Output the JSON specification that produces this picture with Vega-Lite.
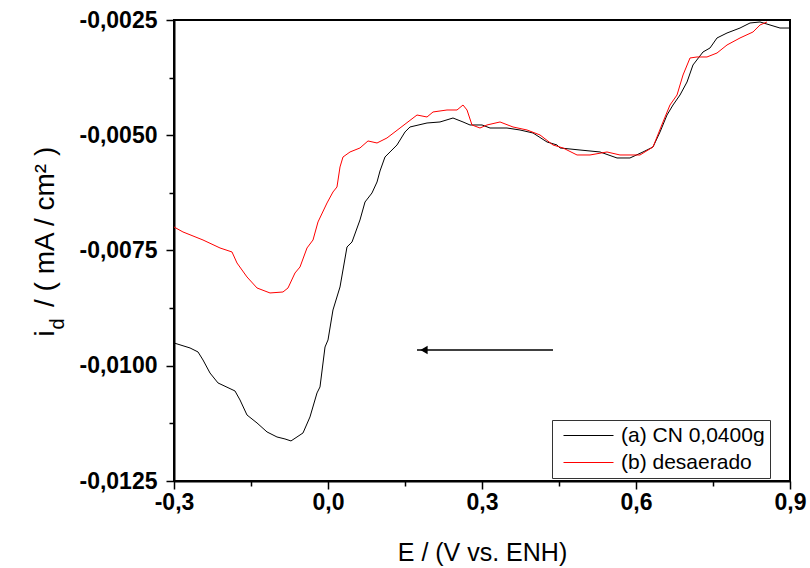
{
  "$schema": "https://vega.github.io/schema/vega-lite/v6.json",
  "width": 616,
  "height": 461,
  "autosize": {"type": "none"},
  "padding": {"left": 174, "top": 20, "right": 20, "bottom": 87},
  "background": "white",
  "config": {
    "font": "Liberation Sans",
    "view": {"stroke": "black", "strokeWidth": 2}
  },
  "datasets": {
    "curves": [
      {"E": -0.3, "i": -0.009506, "s": "(a) CN 0,0400g"},
      {"E": -0.2688, "i": -0.009614, "s": "(a) CN 0,0400g"},
      {"E": -0.2532, "i": -0.009701, "s": "(a) CN 0,0400g"},
      {"E": -0.2435, "i": -0.009875, "s": "(a) CN 0,0400g"},
      {"E": -0.2299, "i": -0.010157, "s": "(a) CN 0,0400g"},
      {"E": -0.2143, "i": -0.010373, "s": "(a) CN 0,0400g"},
      {"E": -0.1812, "i": -0.010547, "s": "(a) CN 0,0400g"},
      {"E": -0.1714, "i": -0.010742, "s": "(a) CN 0,0400g"},
      {"E": -0.1578, "i": -0.011068, "s": "(a) CN 0,0400g"},
      {"E": -0.1383, "i": -0.011241, "s": "(a) CN 0,0400g"},
      {"E": -0.1188, "i": -0.011436, "s": "(a) CN 0,0400g"},
      {"E": -0.0994, "i": -0.011545, "s": "(a) CN 0,0400g"},
      {"E": -0.0838, "i": -0.011588, "s": "(a) CN 0,0400g"},
      {"E": -0.0721, "i": -0.011631, "s": "(a) CN 0,0400g"},
      {"E": -0.0604, "i": -0.011545, "s": "(a) CN 0,0400g"},
      {"E": -0.0487, "i": -0.011458, "s": "(a) CN 0,0400g"},
      {"E": -0.0351, "i": -0.011111, "s": "(a) CN 0,0400g"},
      {"E": -0.0214, "i": -0.01059, "s": "(a) CN 0,0400g"},
      {"E": -0.0156, "i": -0.01046, "s": "(a) CN 0,0400g"},
      {"E": -0.0058, "i": -0.009593, "s": "(a) CN 0,0400g"},
      {"E": 0.0, "i": -0.009441, "s": "(a) CN 0,0400g"},
      {"E": 0.0097, "i": -0.00879, "s": "(a) CN 0,0400g"},
      {"E": 0.0234, "i": -0.008291, "s": "(a) CN 0,0400g"},
      {"E": 0.037, "i": -0.007424, "s": "(a) CN 0,0400g"},
      {"E": 0.0468, "i": -0.007315, "s": "(a) CN 0,0400g"},
      {"E": 0.0623, "i": -0.006838, "s": "(a) CN 0,0400g"},
      {"E": 0.0721, "i": -0.006448, "s": "(a) CN 0,0400g"},
      {"E": 0.0857, "i": -0.006252, "s": "(a) CN 0,0400g"},
      {"E": 0.0955, "i": -0.006014, "s": "(a) CN 0,0400g"},
      {"E": 0.1013, "i": -0.005775, "s": "(a) CN 0,0400g"},
      {"E": 0.111, "i": -0.005472, "s": "(a) CN 0,0400g"},
      {"E": 0.1208, "i": -0.005363, "s": "(a) CN 0,0400g"},
      {"E": 0.1344, "i": -0.005211, "s": "(a) CN 0,0400g"},
      {"E": 0.15, "i": -0.004929, "s": "(a) CN 0,0400g"},
      {"E": 0.1597, "i": -0.004821, "s": "(a) CN 0,0400g"},
      {"E": 0.1929, "i": -0.004734, "s": "(a) CN 0,0400g"},
      {"E": 0.2182, "i": -0.004712, "s": "(a) CN 0,0400g"},
      {"E": 0.2435, "i": -0.004626, "s": "(a) CN 0,0400g"},
      {"E": 0.263, "i": -0.004712, "s": "(a) CN 0,0400g"},
      {"E": 0.2766, "i": -0.004777, "s": "(a) CN 0,0400g"},
      {"E": 0.3, "i": -0.004777, "s": "(a) CN 0,0400g"},
      {"E": 0.3156, "i": -0.004843, "s": "(a) CN 0,0400g"},
      {"E": 0.3487, "i": -0.004843, "s": "(a) CN 0,0400g"},
      {"E": 0.374, "i": -0.004886, "s": "(a) CN 0,0400g"},
      {"E": 0.3994, "i": -0.004951, "s": "(a) CN 0,0400g"},
      {"E": 0.4266, "i": -0.005146, "s": "(a) CN 0,0400g"},
      {"E": 0.4461, "i": -0.005211, "s": "(a) CN 0,0400g"},
      {"E": 0.452, "i": -0.005276, "s": "(a) CN 0,0400g"},
      {"E": 0.4909, "i": -0.00532, "s": "(a) CN 0,0400g"},
      {"E": 0.5299, "i": -0.005363, "s": "(a) CN 0,0400g"},
      {"E": 0.563, "i": -0.005493, "s": "(a) CN 0,0400g"},
      {"E": 0.5883, "i": -0.005493, "s": "(a) CN 0,0400g"},
      {"E": 0.6136, "i": -0.005363, "s": "(a) CN 0,0400g"},
      {"E": 0.6331, "i": -0.005255, "s": "(a) CN 0,0400g"},
      {"E": 0.6468, "i": -0.004929, "s": "(a) CN 0,0400g"},
      {"E": 0.6604, "i": -0.004561, "s": "(a) CN 0,0400g"},
      {"E": 0.6721, "i": -0.004344, "s": "(a) CN 0,0400g"},
      {"E": 0.6857, "i": -0.004127, "s": "(a) CN 0,0400g"},
      {"E": 0.6994, "i": -0.003845, "s": "(a) CN 0,0400g"},
      {"E": 0.711, "i": -0.003476, "s": "(a) CN 0,0400g"},
      {"E": 0.7305, "i": -0.003194, "s": "(a) CN 0,0400g"},
      {"E": 0.7442, "i": -0.003107, "s": "(a) CN 0,0400g"},
      {"E": 0.7578, "i": -0.00289, "s": "(a) CN 0,0400g"},
      {"E": 0.7773, "i": -0.002782, "s": "(a) CN 0,0400g"},
      {"E": 0.8026, "i": -0.002674, "s": "(a) CN 0,0400g"},
      {"E": 0.8221, "i": -0.002565, "s": "(a) CN 0,0400g"},
      {"E": 0.8416, "i": -0.002543, "s": "(a) CN 0,0400g"},
      {"E": 0.861, "i": -0.002608, "s": "(a) CN 0,0400g"},
      {"E": 0.8805, "i": -0.002674, "s": "(a) CN 0,0400g"},
      {"E": 0.8981, "i": -0.002674, "s": "(a) CN 0,0400g"},
      {"E": -0.3, "i": -0.00699, "s": "(b) desaerado"},
      {"E": -0.2825, "i": -0.007098, "s": "(b) desaerado"},
      {"E": -0.2435, "i": -0.007272, "s": "(b) desaerado"},
      {"E": -0.2104, "i": -0.007445, "s": "(b) desaerado"},
      {"E": -0.187, "i": -0.007532, "s": "(b) desaerado"},
      {"E": -0.1773, "i": -0.007771, "s": "(b) desaerado"},
      {"E": -0.1578, "i": -0.008074, "s": "(b) desaerado"},
      {"E": -0.1383, "i": -0.008313, "s": "(b) desaerado"},
      {"E": -0.113, "i": -0.008421, "s": "(b) desaerado"},
      {"E": -0.0877, "i": -0.0084, "s": "(b) desaerado"},
      {"E": -0.0779, "i": -0.008313, "s": "(b) desaerado"},
      {"E": -0.0643, "i": -0.007988, "s": "(b) desaerado"},
      {"E": -0.0545, "i": -0.007857, "s": "(b) desaerado"},
      {"E": -0.0409, "i": -0.007445, "s": "(b) desaerado"},
      {"E": -0.0292, "i": -0.007272, "s": "(b) desaerado"},
      {"E": -0.0195, "i": -0.006881, "s": "(b) desaerado"},
      {"E": -0.0019, "i": -0.006469, "s": "(b) desaerado"},
      {"E": 0.0097, "i": -0.006231, "s": "(b) desaerado"},
      {"E": 0.0175, "i": -0.006122, "s": "(b) desaerado"},
      {"E": 0.0234, "i": -0.005688, "s": "(b) desaerado"},
      {"E": 0.0292, "i": -0.005472, "s": "(b) desaerado"},
      {"E": 0.0429, "i": -0.005363, "s": "(b) desaerado"},
      {"E": 0.0623, "i": -0.005276, "s": "(b) desaerado"},
      {"E": 0.0779, "i": -0.005124, "s": "(b) desaerado"},
      {"E": 0.0955, "i": -0.005168, "s": "(b) desaerado"},
      {"E": 0.1149, "i": -0.005059, "s": "(b) desaerado"},
      {"E": 0.1403, "i": -0.004843, "s": "(b) desaerado"},
      {"E": 0.1734, "i": -0.004561, "s": "(b) desaerado"},
      {"E": 0.1929, "i": -0.004604, "s": "(b) desaerado"},
      {"E": 0.2046, "i": -0.004495, "s": "(b) desaerado"},
      {"E": 0.2318, "i": -0.004452, "s": "(b) desaerado"},
      {"E": 0.2513, "i": -0.004452, "s": "(b) desaerado"},
      {"E": 0.263, "i": -0.004344, "s": "(b) desaerado"},
      {"E": 0.2708, "i": -0.004452, "s": "(b) desaerado"},
      {"E": 0.2805, "i": -0.004777, "s": "(b) desaerado"},
      {"E": 0.2961, "i": -0.004843, "s": "(b) desaerado"},
      {"E": 0.3097, "i": -0.004777, "s": "(b) desaerado"},
      {"E": 0.3351, "i": -0.004712, "s": "(b) desaerado"},
      {"E": 0.3604, "i": -0.004821, "s": "(b) desaerado"},
      {"E": 0.3877, "i": -0.004886, "s": "(b) desaerado"},
      {"E": 0.413, "i": -0.004994, "s": "(b) desaerado"},
      {"E": 0.4383, "i": -0.005211, "s": "(b) desaerado"},
      {"E": 0.4578, "i": -0.005276, "s": "(b) desaerado"},
      {"E": 0.4851, "i": -0.005428, "s": "(b) desaerado"},
      {"E": 0.5104, "i": -0.005428, "s": "(b) desaerado"},
      {"E": 0.5435, "i": -0.005363, "s": "(b) desaerado"},
      {"E": 0.5688, "i": -0.005428, "s": "(b) desaerado"},
      {"E": 0.6078, "i": -0.005428, "s": "(b) desaerado"},
      {"E": 0.6331, "i": -0.005255, "s": "(b) desaerado"},
      {"E": 0.6526, "i": -0.004712, "s": "(b) desaerado"},
      {"E": 0.6662, "i": -0.004344, "s": "(b) desaerado"},
      {"E": 0.6799, "i": -0.004127, "s": "(b) desaerado"},
      {"E": 0.6916, "i": -0.003693, "s": "(b) desaerado"},
      {"E": 0.7052, "i": -0.003324, "s": "(b) desaerado"},
      {"E": 0.7188, "i": -0.003302, "s": "(b) desaerado"},
      {"E": 0.7383, "i": -0.003302, "s": "(b) desaerado"},
      {"E": 0.7578, "i": -0.003216, "s": "(b) desaerado"},
      {"E": 0.7773, "i": -0.003042, "s": "(b) desaerado"},
      {"E": 0.8026, "i": -0.00289, "s": "(b) desaerado"},
      {"E": 0.8279, "i": -0.00276, "s": "(b) desaerado"},
      {"E": 0.8416, "i": -0.002608, "s": "(b) desaerado"},
      {"E": 0.8552, "i": -0.002543, "s": "(b) desaerado"}
    ],
    "arrow": [{"E0": 0.4383, "E1": 0.1734, "i": -0.009658}],
    "head": [{"E": 0.187, "i": -0.009658}]
  },
  "layer": [
    {
      "data": {"name": "curves"},
      "mark": {"type": "line", "strokeWidth": 1, "clip": true},
      "encoding": {
        "x": {
          "field": "E", "type": "quantitative",
          "scale": {"domain": [-0.3, 0.9], "nice": false, "zero": false},
          "axis": {
            "values": [-0.3, -0.15, 0, 0.15, 0.3, 0.45, 0.6, 0.75, 0.9],
            "labelExpr": "abs(datum.value/0.3 - round(datum.value/0.3)) < 0.01 ? replace(replace(format(datum.value, '.1f'), '.', ','), '\u2212', '-') : ''",
            "labelFont": "Liberation Sans", "labelFontSize": 23, "labelFontWeight": "bold", "labelColor": "black",
            "labelPadding": 2, "labelFlush": false, "labelOverlap": false,
            "tickColor": "black", "tickWidth": 1.5,
            "tickSize": {"condition": {"test": "abs(datum.value/0.3 - round(datum.value/0.3)) < 0.01", "value": 8}, "value": 5},
            "domainColor": "black", "domainWidth": 2, "grid": false,
            "title": "E / (V vs. ENH)", "titleFont": "Liberation Sans", "titleFontSize": 25, "titleFontWeight": "normal", "titleColor": "black",
            "titleY": 79, "titleBaseline": "alphabetic"
          }
        },
        "y": {
          "field": "i", "type": "quantitative",
          "scale": {"domain": [-0.0125, -0.0025], "nice": false, "zero": false},
          "axis": {
            "values": [-0.0125, -0.01125, -0.01, -0.00875, -0.0075, -0.00625, -0.005, -0.00375, -0.0025],
            "labelExpr": "abs(datum.value/0.0025 - round(datum.value/0.0025)) < 0.01 ? replace(replace(format(datum.value, '.4f'), '.', ','), '\u2212', '-') : ''",
            "labelFont": "Liberation Sans", "labelFontSize": 23, "labelFontWeight": "bold", "labelColor": "black",
            "labelPadding": 9, "labelFlush": false, "labelOverlap": false,
            "tickColor": "black", "tickWidth": 1.5,
            "tickSize": {"condition": {"test": "abs(datum.value/0.0025 - round(datum.value/0.0025)) < 0.01", "value": 8}, "value": 5},
            "domainColor": "black", "domainWidth": 2, "grid": false,
            "title": "i\u00a0\u00a0\u00a0/ ( mA / cm² )", "titleFont": "Liberation Sans", "titleFontSize": 28, "titleFontWeight": "normal", "titleColor": "black",
            "titleAngle": -90, "titleX": -121, "titleY": 316, "titleAlign": "left", "titleBaseline": "alphabetic"
          }
        },
        "color": {
          "field": "s", "type": "nominal",
          "scale": {"domain": ["(a) CN 0,0400g", "(b) desaerado"], "range": ["black", "#ff0000"]},
          "legend": {
            "title": null, "orient": "none", "legendX": 378, "legendY": 400,
            "symbolType": "M-2.5,0H2.5", "symbolSize": 400, "symbolStrokeWidth": 1, "symbolFillColor": "transparent",
            "labelFont": "Liberation Sans", "labelFontSize": 21, "labelColor": "black", "labelOffset": 22,
            "strokeColor": "#333333", "padding": 5, "symbolOffset": 21, "rowPadding": 5, "fillColor": "white"
          }
        }
      }
    },
    {
      "data": {"name": "arrow"},
      "mark": {"type": "rule", "strokeWidth": 1.3, "color": "black"},
      "encoding": {
        "x": {"field": "E0", "type": "quantitative"},
        "x2": {"field": "E1"},
        "y": {"field": "i", "type": "quantitative", "scale": {"domain": [-0.0125, -0.0025], "nice": false, "zero": false}, "axis": null}
      }
    },
    {
      "data": {"name": "head"},
      "mark": {"type": "point", "shape": "triangle-left", "filled": true, "size": 70, "color": "black", "opacity": 1},
      "encoding": {
        "x": {"field": "E", "type": "quantitative"},
        "y": {
          "field": "i", "type": "quantitative",
          "scale": {"domain": [-0.0125, -0.0025], "nice": false, "zero": false},
          "axis": {
            "orient": "right", "domain": false, "ticks": false, "labels": false, "grid": false,
            "title": "d", "titleFont": "Liberation Sans", "titleFontSize": 20, "titleFontWeight": "normal", "titleColor": "black",
            "titleAngle": -90, "titleX": -727, "titleY": 309, "titleAlign": "left", "titleBaseline": "alphabetic"
          }
        }
      }
    }
  ],
  "resolve": {"scale": {"y": "independent"}}
}
